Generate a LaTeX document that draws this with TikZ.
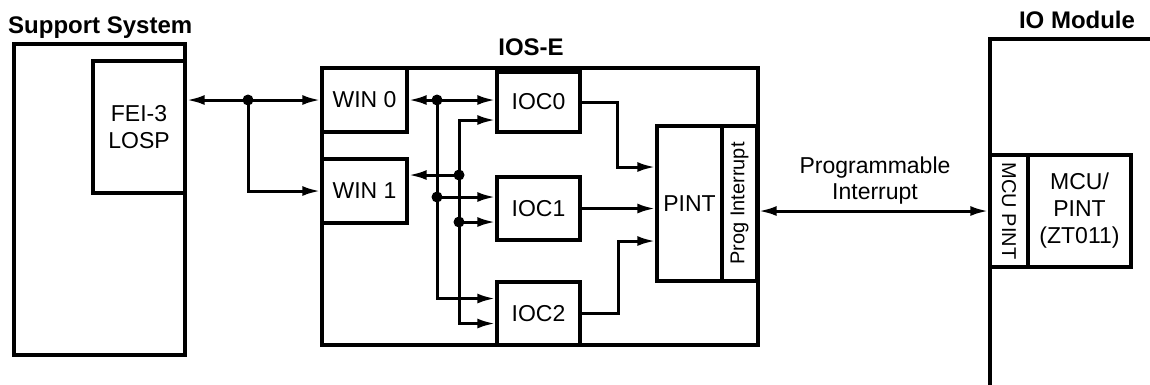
\documentclass[tikz,border=0pt]{standalone}
\usepackage{fontspec}
\setmainfont{Liberation Sans}
\usetikzlibrary{arrows.meta}
\begin{document}
\begin{tikzpicture}[x=1pt,y=-1pt,
  outerbox/.style={draw,line width=4pt,inner sep=0pt},
  box/.style={draw,line width=3.4pt,inner sep=0pt,align=center,font=\fontsize{23}{27}\selectfont},
  title/.style={font=\bfseries\fontsize{24}{28}\selectfont,inner sep=0pt},
  vlabel/.style={font=\fontsize{20}{24}\selectfont,inner sep=0pt},
  wire/.style={line width=3pt},
  tip/.style={-{Latex[length=18pt,width=10pt]}},
  bothtip/.style={{Latex[length=18pt,width=10pt]}-{Latex[length=18pt,width=10pt]}},
  dot/.style={circle,fill,inner sep=0pt,minimum size=11pt}]
\useasboundingbox (0,0) rectangle (1150,384);

% titles
\node[title,anchor=base west] (tsup) at (8,33) {Support System};
\node[title,anchor=base] (tios) at (531,55) {IOS-E};
\node[title,anchor=base] (tio) at (1077,28) {IO Module};

% Support system
\node[outerbox,minimum width=171,minimum height=311] (sup) at (99.5,199.5) {};
\node[box,minimum width=92,minimum height=132] (fei) at (139,127) {FEI-3\\LOSP};

% IOS-E
\node[outerbox,minimum width=436,minimum height=277] (iose) at (540,206.5) {};
\node[box,minimum width=85,minimum height=64] (win0) at (364.5,100) {WIN 0};
\node[box,minimum width=85,minimum height=64] (win1) at (364.5,191) {WIN 1};
\node[box,minimum width=83,minimum height=60] (ioc0) at (538.5,102) {IOC0};
\node[box,minimum width=83,minimum height=63] (ioc1) at (538.5,208.5) {IOC1};
\node[box,minimum width=83,minimum height=63] (ioc2) at (538.5,313.5) {IOC2};
\node[box,minimum width=65,minimum height=155] (pint) at (689.5,203.5) {PINT};
\node[box,minimum width=35,minimum height=155] (prog) at (739.5,203.5) {};
\node[vlabel,rotate=90] (progt) at (prog.center) {Prog Interrupt};

% IO module
\draw[line width=4pt] (1170,39) -- (990,39) -- (990,400);
\node[box,minimum width=38,minimum height=112] (mcup) at (1009,211) {};
\node[vlabel,rotate=-90] (mcupt) at (mcup.center) {MCU PINT};
\node[box,minimum width=103,minimum height=112] (mcu) at (1079.5,211) {MCU/\\PINT\\(ZT011)};

% junctions and bends
\node[dot] (j1) at (248,100) {};
\node[dot] (j2) at (437,100) {};
\node[dot] (j3) at (437,197) {};
\node[dot] (j4) at (459,175) {};
\node[dot] (j5) at (459,222) {};
\coordinate (b2) at (459,120);
\coordinate (k1) at (617,167);
\coordinate (k2) at (618,241);

% connectors
\draw[wire,bothtip] (fei.east |- win0.west) -- (win0.west);
\draw[wire,tip] (j1.center) |- (win1.west);
\draw[wire,bothtip] (win0.east) -- (ioc0.west |- win0.east);
\draw[wire,tip] (j2.center) |- ([yshift=15pt]ioc2.west);
\draw[wire,tip] (j3.center) -- (ioc1.west |- j3);
\draw[wire,bothtip] (ioc0.west |- b2) -- (b2) |- ([yshift=-10pt]ioc2.west);
\draw[wire,tip] (j4.center) -- (win1.east |- j4);
\draw[wire,tip] (j5.center) -- (ioc1.west |- j5);
\draw[wire,tip] (ioc0.east) -| (k1) -- (pint.west |- k1);
\draw[wire,tip] (ioc1.east) -- (pint.west |- ioc1.east);
\draw[wire,tip] (ioc2.east) -| (k2) -- (pint.west |- k2);
\draw[wire,bothtip] (prog.east |- mcup.west) -- (mcup.west);
\node[align=center,font=\fontsize{23}{26}\selectfont,inner sep=0pt] (lbl) at (875,181) {Programmable\\Interrupt};
\end{tikzpicture}
\end{document}
